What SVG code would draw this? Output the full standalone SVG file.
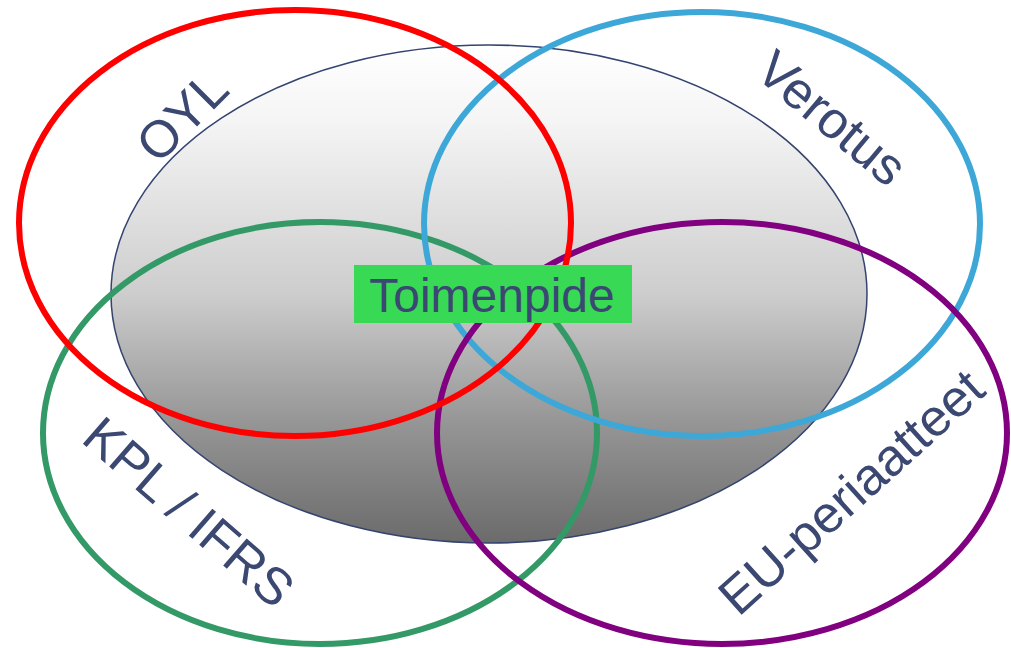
<svg xmlns="http://www.w3.org/2000/svg" width="1011" height="648" viewBox="0 0 1011 648">
  <style>
    .ring { fill: none; stroke-width: 6; }
    .label { font-family: "Liberation Sans", Arial, sans-serif; font-size: 52px; fill: #3A4872; text-anchor: middle; }
  </style>
  <defs>
    <linearGradient id="core-fill" x1="0" y1="0" x2="0" y2="1">
      <stop offset="0" stop-color="#ffffff"/>
      <stop offset="0.15" stop-color="#f5f5f5"/>
      <stop offset="0.5" stop-color="#cdcdcd"/>
      <stop offset="0.75" stop-color="#979797"/>
      <stop offset="1" stop-color="#6b6b6b"/>
    </linearGradient>
  </defs>
  <rect width="1011" height="648" fill="#ffffff"/>

  <!-- central shared area -->
  <g id="core">
    <ellipse cx="489" cy="294" rx="378" ry="249" fill="url(#core-fill)" stroke="#34446F" stroke-width="1.5"/>
  </g>

  <!-- overlapping rings -->
  <g id="rings">
    <g id="kpl-ifrs">
      <ellipse class="ring" cx="320" cy="433" rx="277" ry="211" stroke="#339966"/>
      <text class="label" transform="translate(189 512) rotate(41)" dy="18">KPL / IFRS</text>
    </g>
    <g id="verotus">
      <ellipse class="ring" cx="702" cy="224" rx="278" ry="212" stroke="#3DA8D8"/>
      <text class="label" transform="translate(832 118) rotate(40)" dy="18">Verotus</text>
    </g>
    <g id="eu-periaatteet">
      <ellipse class="ring" cx="722" cy="433" rx="285" ry="211" stroke="#800080"/>
      <text class="label" transform="translate(851 492) rotate(-42)" dy="18">EU-periaatteet</text>
    </g>
    <g id="oyl">
      <ellipse class="ring" cx="295" cy="223" rx="276" ry="213" stroke="#FF0000"/>
      <text class="label" transform="translate(182 116) rotate(-45)" dy="18">OYL</text>
    </g>
  </g>

  <!-- centre label -->
  <g id="toimenpide">
    <rect x="354" y="265" width="278" height="58" fill="#38D955"/>
    <text x="492" y="312" font-family="Liberation Sans, Arial, sans-serif" font-size="48" fill="#3A4872" text-anchor="middle">Toimenpide</text>
  </g>
</svg>
